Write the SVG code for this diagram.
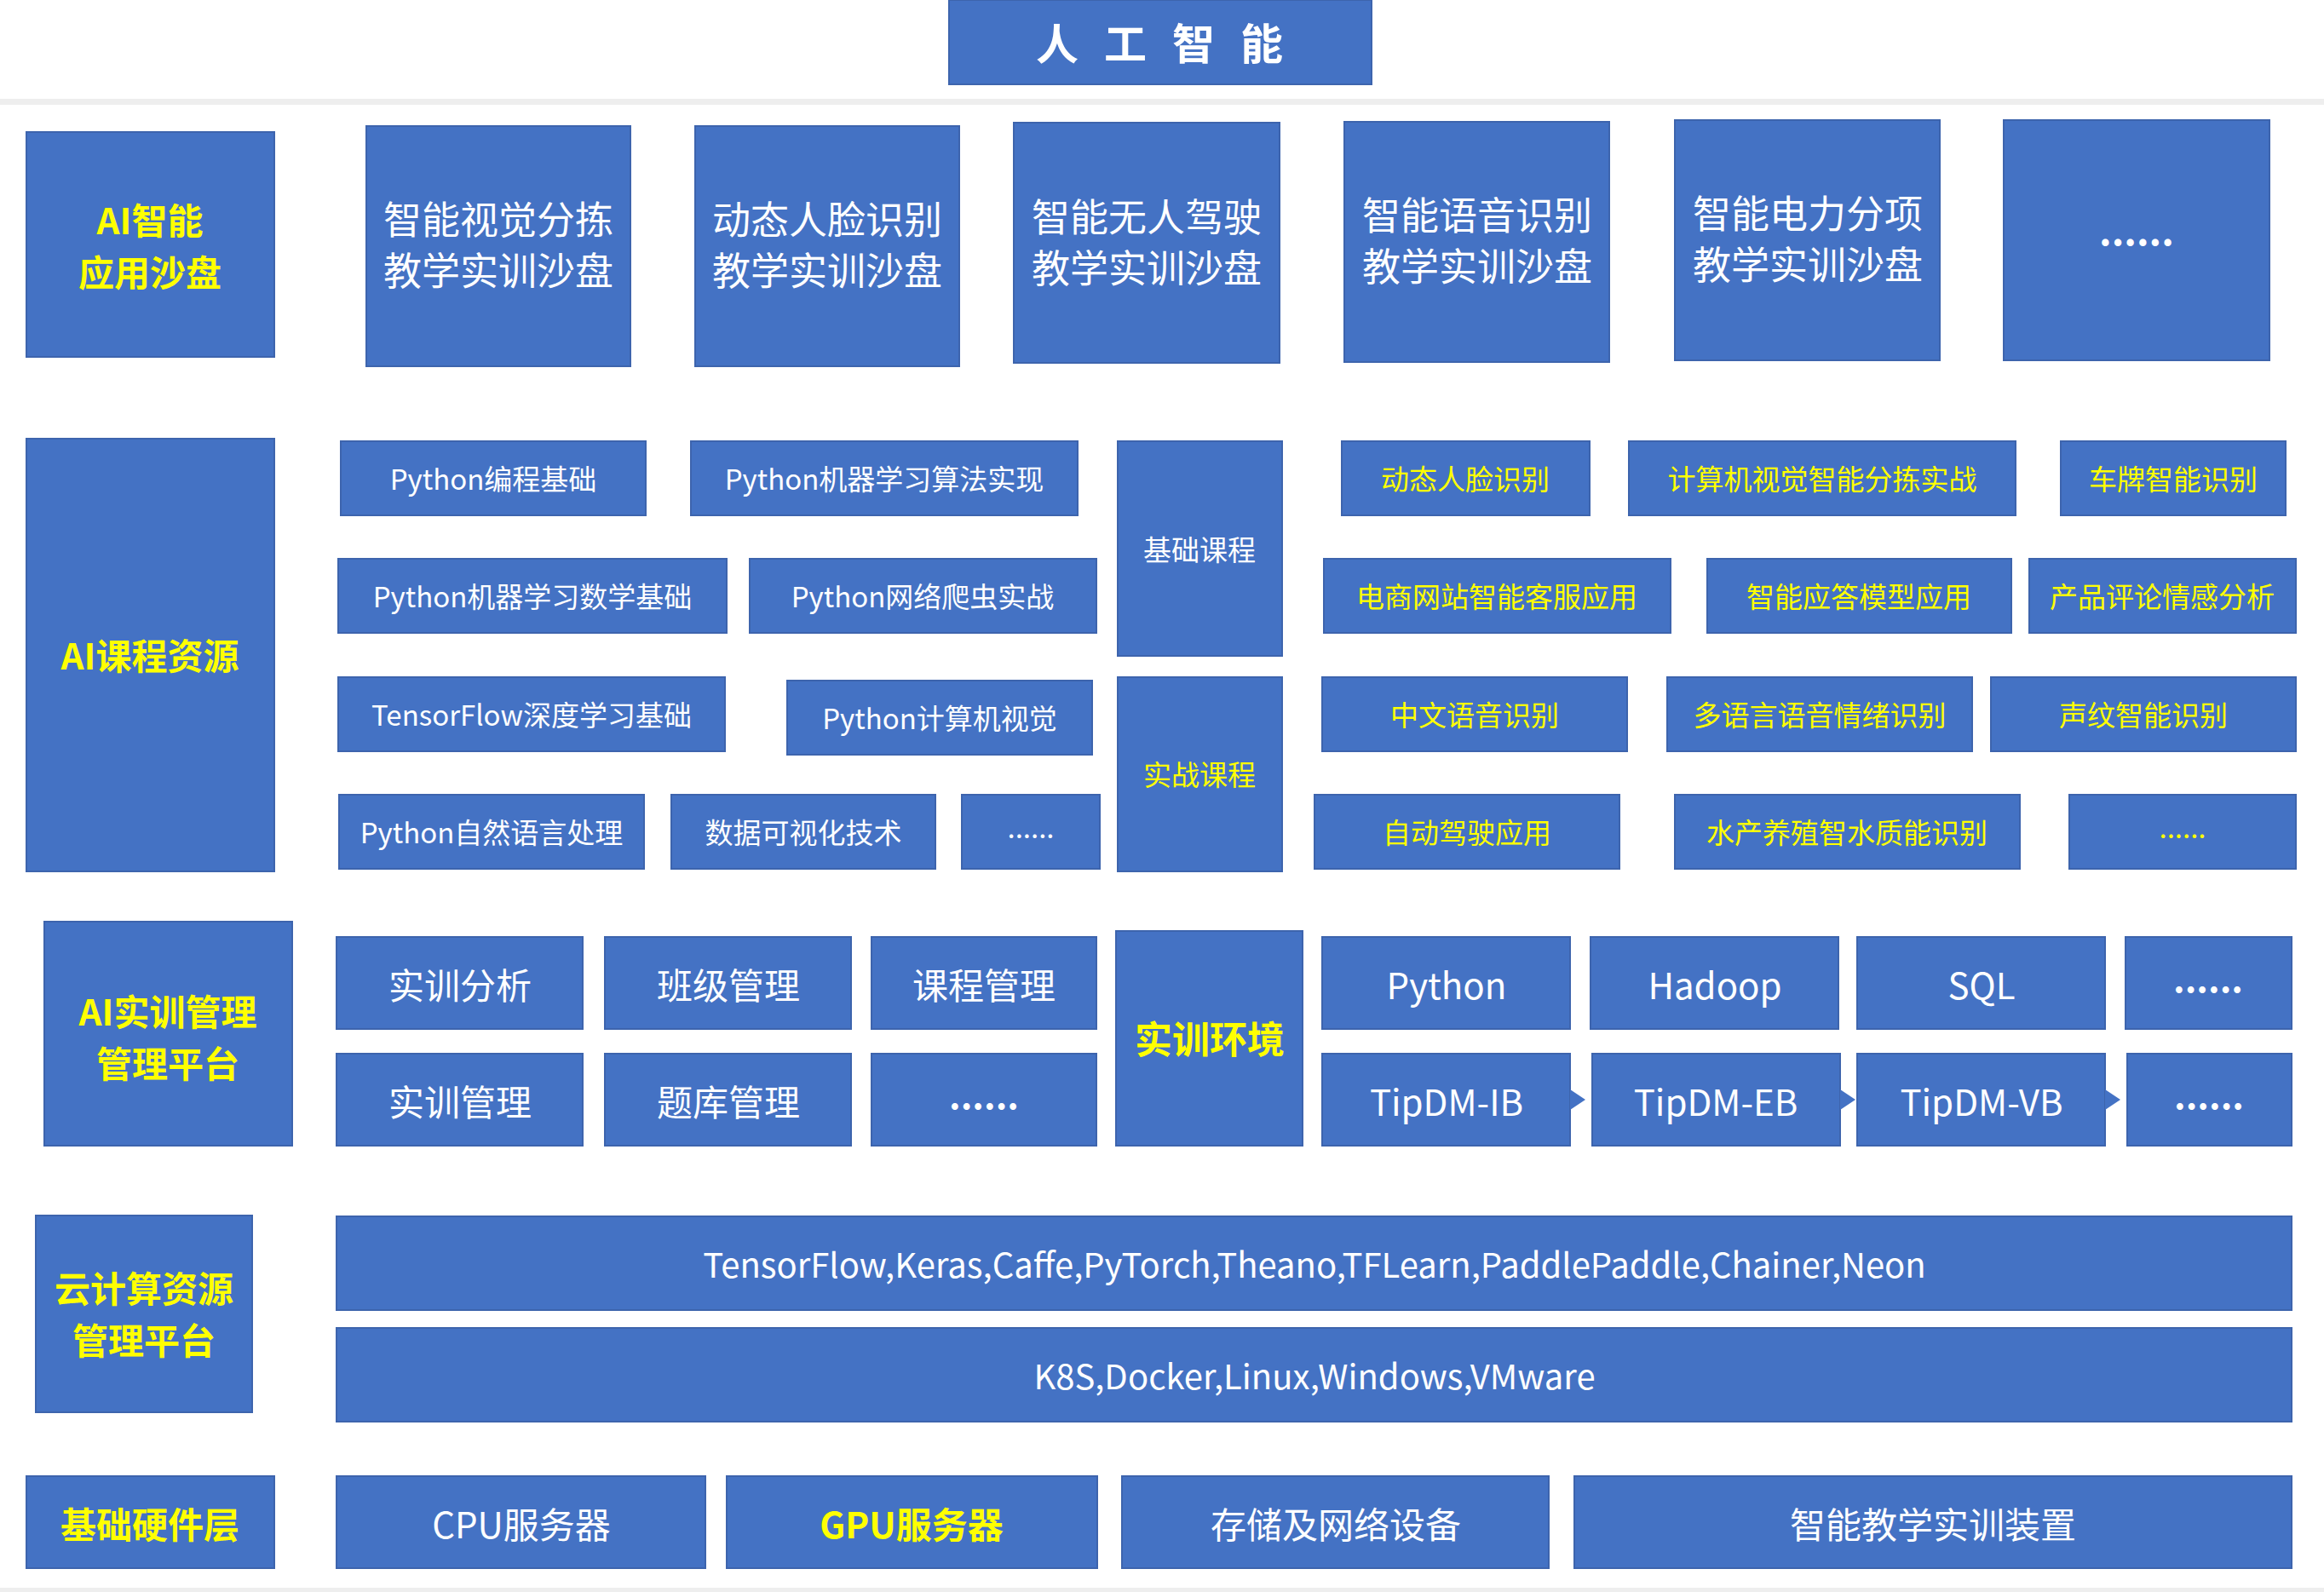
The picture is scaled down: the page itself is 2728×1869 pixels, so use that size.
<svg xmlns="http://www.w3.org/2000/svg" width="2728" height="1869" viewBox="0 0 2728 1869">
<style>
rect.b{fill:#4472C4;stroke:#3d64ad;stroke-width:2}
text{font-family:"Noto Sans CJK SC","Noto Sans",sans-serif;text-anchor:middle;dominant-baseline:central;fill:#fff}
.y{fill:#FFFF00}
.k{font-weight:bold}
.h{font-size:42px}
.s1{font-size:45px}
.s2{font-size:33px}
.s3{font-size:42px}
.s4{font-size:40px}
</style>
<rect width="2728" height="1869" fill="#fff"/>
<rect x="0" y="116" width="2728" height="7" fill="#eeeeee"/>
<rect x="0" y="1864" width="2728" height="5" fill="#eeeeee"/>
<g id="title"><rect class="b" x="1114" y="0" width="496" height="99"/><text x="1376" y="48" style="font-size:50px;font-weight:bold;letter-spacing:30px">人工智能</text></g>

<g id="row1">
<g id="l1"><rect class="b" x="31" y="155" width="291" height="264"/><text class="y k h" x="176" y="256">AI智能</text><text class="y k h" x="176" y="317">应用沙盘</text></g>
<g id="n11"><rect class="b" x="430" y="148" width="310" height="282"/><text class="s1" x="585" y="255">智能视觉分拣</text><text class="s1" x="585" y="315">教学实训沙盘</text></g>
<g id="n12"><rect class="b" x="816" y="148" width="310" height="282"/><text class="s1" x="971" y="255">动态人脸识别</text><text class="s1" x="971" y="315">教学实训沙盘</text></g>
<g id="n13"><rect class="b" x="1190" y="144" width="312" height="282"/><text class="s1" x="1346" y="252">智能无人驾驶</text><text class="s1" x="1346" y="312">教学实训沙盘</text></g>
<g id="n14"><rect class="b" x="1578" y="143" width="311" height="282"/><text class="s1" x="1734" y="250">智能语音识别</text><text class="s1" x="1734" y="310">教学实训沙盘</text></g>
<g id="n15"><rect class="b" x="1966" y="141" width="311" height="282"/><text class="s1" x="2122" y="248">智能电力分项</text><text class="s1" x="2122" y="308">教学实训沙盘</text></g>
<g id="n16"><rect class="b" x="2352" y="141" width="312" height="282"/><text class="s1 k" x="2508" y="268">......</text></g>
</g>

<g id="row2">
<g id="l2"><rect class="b" x="31" y="515" width="291" height="508"/><text class="y k h" x="176" y="767">AI课程资源</text></g>
<g id="c1"><rect class="b" x="400" y="518" width="358" height="87"/><text class="s2" x="579" y="561">Python编程基础</text></g>
<g id="c2"><rect class="b" x="811" y="518" width="454" height="87"/><text class="s2" x="1038" y="561">Python机器学习算法实现</text></g>
<g id="c3"><rect class="b" x="397" y="656" width="456" height="87"/><text class="s2" x="625" y="699">Python机器学习数学基础</text></g>
<g id="c4"><rect class="b" x="880" y="656" width="407" height="87"/><text class="s2" x="1083" y="699">Python网络爬虫实战</text></g>
<g id="c5"><rect class="b" x="397" y="795" width="454" height="87"/><text class="s2" x="624" y="838">TensorFlow深度学习基础</text></g>
<g id="c6"><rect class="b" x="924" y="799" width="358" height="87"/><text class="s2" x="1103" y="842">Python计算机视觉</text></g>
<g id="c7"><rect class="b" x="398" y="933" width="358" height="87"/><text class="s2" x="577" y="976">Python自然语言处理</text></g>
<g id="c8"><rect class="b" x="788" y="933" width="310" height="87"/><text class="s2" x="943" y="976">数据可视化技术</text></g>
<g id="c9"><rect class="b" x="1129" y="933" width="162" height="87"/><text class="s2" x="1210" y="970">......</text></g>
<g id="jc"><rect class="b" x="1312" y="518" width="193" height="252"/><text class="s2" x="1408" y="644">基础课程</text></g>
<g id="sz"><rect class="b" x="1312" y="795" width="193" height="228"/><text class="s2 y" x="1408" y="908">实战课程</text></g>
<g id="r1"><rect class="b" x="1575" y="518" width="291" height="87"/><text class="s2 y" x="1720" y="561">动态人脸识别</text></g>
<g id="r2"><rect class="b" x="1912" y="518" width="454" height="87"/><text class="s2 y" x="2139" y="561">计算机视觉智能分拣实战</text></g>
<g id="r3"><rect class="b" x="2419" y="518" width="264" height="87"/><text class="s2 y" x="2551" y="561">车牌智能识别</text></g>
<g id="r4"><rect class="b" x="1554" y="656" width="407" height="87"/><text class="s2 y" x="1757" y="699">电商网站智能客服应用</text></g>
<g id="r5"><rect class="b" x="2004" y="656" width="357" height="87"/><text class="s2 y" x="2182" y="699">智能应答模型应用</text></g>
<g id="r6"><rect class="b" x="2382" y="656" width="313" height="87"/><text class="s2 y" x="2538" y="699">产品评论情感分析</text></g>
<g id="r7"><rect class="b" x="1552" y="795" width="358" height="87"/><text class="s2 y" x="1731" y="838">中文语音识别</text></g>
<g id="r8"><rect class="b" x="1957" y="795" width="358" height="87"/><text class="s2 y" x="2136" y="838">多语言语音情绪识别</text></g>
<g id="r9"><rect class="b" x="2337" y="795" width="358" height="87"/><text class="s2 y" x="2516" y="838">声纹智能识别</text></g>
<g id="r10"><rect class="b" x="1543" y="933" width="358" height="87"/><text class="s2 y" x="1722" y="976">自动驾驶应用</text></g>
<g id="r11"><rect class="b" x="1966" y="933" width="405" height="87"/><text class="s2 y" x="2168" y="976">水产养殖智水质能识别</text></g>
<g id="r12"><rect class="b" x="2429" y="933" width="266" height="87"/><text class="s2 y" x="2562" y="970">......</text></g>
</g>

<g id="row3">
<g id="l3"><rect class="b" x="52" y="1082" width="291" height="263"/><text class="y k h" x="197" y="1185">AI实训管理</text><text class="y k h" x="197" y="1246">管理平台</text></g>
<g id="m1"><rect class="b" x="395" y="1100" width="289" height="108"/><text class="s3" x="540" y="1154">实训分析</text></g>
<g id="m2"><rect class="b" x="710" y="1100" width="289" height="108"/><text class="s3" x="855" y="1154">班级管理</text></g>
<g id="m3"><rect class="b" x="1023" y="1100" width="264" height="108"/><text class="s3" x="1155" y="1154">课程管理</text></g>
<g id="m4"><rect class="b" x="395" y="1237" width="289" height="108"/><text class="s3" x="540" y="1291">实训管理</text></g>
<g id="m5"><rect class="b" x="710" y="1237" width="289" height="108"/><text class="s3" x="855" y="1291">题库管理</text></g>
<g id="m6"><rect class="b" x="1023" y="1237" width="264" height="108"/><text class="s3 k" x="1155" y="1283">......</text></g>
<g id="env"><rect class="b" x="1310" y="1093" width="219" height="252"/><text class="y k" x="1420" y="1218" style="font-size:44px">实训环境</text></g>
<g id="e1"><rect class="b" x="1552" y="1100" width="291" height="108"/><text class="s3" x="1698" y="1154">Python</text></g>
<g id="e2"><rect class="b" x="1867" y="1100" width="291" height="108"/><text class="s3" x="2013" y="1154">Hadoop</text></g>
<g id="e3"><rect class="b" x="2180" y="1100" width="291" height="108"/><text class="s3" x="2326" y="1154">SQL</text></g>
<g id="e4"><rect class="b" x="2495" y="1100" width="195" height="108"/><text class="s3 k" x="2592" y="1146">......</text></g>
<g id="t1"><rect class="b" x="1552" y="1237" width="291" height="108"/><text class="s3" x="1698" y="1291">TipDM-IB</text></g>
<g id="t2"><rect class="b" x="1869" y="1237" width="291" height="108"/><text class="s3" x="2014" y="1291">TipDM-EB</text></g>
<g id="t3"><rect class="b" x="2180" y="1237" width="291" height="108"/><text class="s3" x="2326" y="1291">TipDM-VB</text></g>
<g id="t4"><rect class="b" x="2497" y="1237" width="193" height="108"/><text class="s3 k" x="2593" y="1283">......</text></g>
</g>

<g id="connectors" fill="#4472C4">
<polygon points="1843,1279 1861,1291 1843,1303"/>
<polygon points="2160,1279 2178,1291 2160,1303"/>
<polygon points="2471,1279 2489,1291 2471,1303"/>
</g>

<g id="row4">
<g id="l4"><rect class="b" x="42" y="1427" width="254" height="231"/><text class="y k h" x="169" y="1510">云计算资源</text><text class="y k h" x="169" y="1571">管理平台</text></g>
<g id="f1"><rect class="b" x="395" y="1428" width="2295" height="110"/><text class="s4" x="1543" y="1483">TensorFlow,Keras,Caffe,PyTorch,Theano,TFLearn,PaddlePaddle,Chainer,Neon</text></g>
<g id="f2"><rect class="b" x="395" y="1559" width="2295" height="110"/><text class="s4" x="1543" y="1614">K8S,Docker,Linux,Windows,VMware</text></g>
</g>

<g id="row5">
<g id="l5"><rect class="b" x="31" y="1733" width="291" height="108"/><text class="y k h" x="176" y="1787">基础硬件层</text></g>
<g id="h1"><rect class="b" x="395" y="1733" width="433" height="108"/><text class="s3" x="612" y="1787">CPU服务器</text></g>
<g id="h2"><rect class="b" x="853" y="1733" width="435" height="108"/><text class="s3 y k" x="1070" y="1787">GPU服务器</text></g>
<g id="h3"><rect class="b" x="1317" y="1733" width="501" height="108"/><text class="s3" x="1568" y="1787">存储及网络设备</text></g>
<g id="h4"><rect class="b" x="1848" y="1733" width="842" height="108"/><text class="s3" x="2269" y="1787">智能教学实训装置</text></g>
</g>
</svg>
